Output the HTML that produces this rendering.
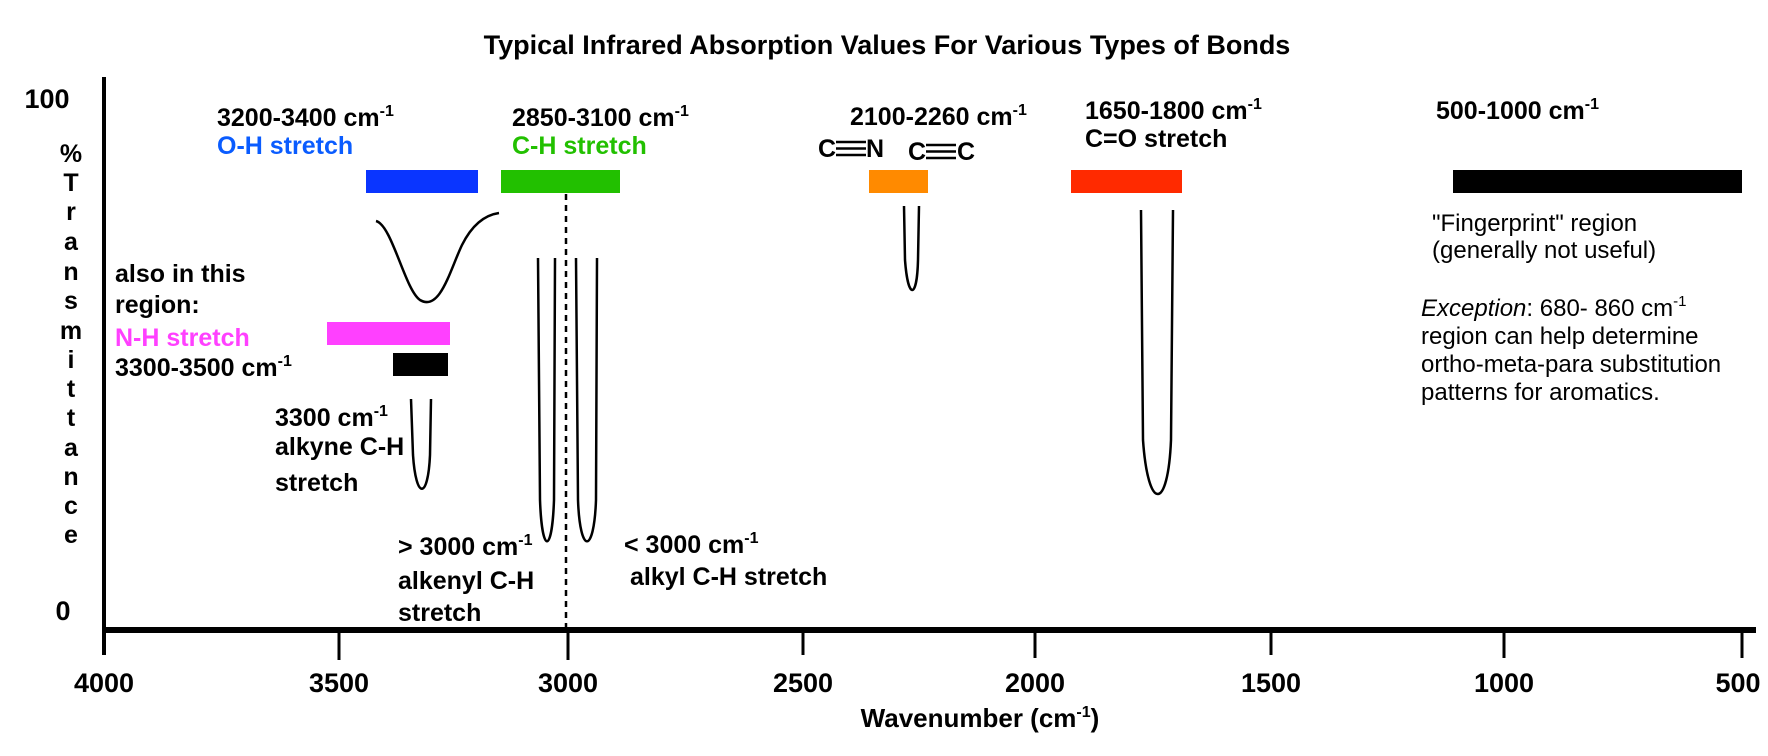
<!DOCTYPE html>
<html><head><meta charset="utf-8"><style>
html,body{margin:0;padding:0;background:#fff;}
svg{display:block;font-family:"Liberation Sans",Arial,sans-serif;}
.b{font-weight:bold;font-size:25px;fill:#000;}
.n{font-size:24px;fill:#000;}
</style></head><body>
<svg width="1768" height="756" viewBox="0 0 1768 756" xmlns="http://www.w3.org/2000/svg">
<text x="887" y="54" text-anchor="middle" class="b" style="font-size:27px">Typical Infrared Absorption Values For Various Types of Bonds</text>
<!-- axes -->
<line x1="104" y1="77" x2="104" y2="655" stroke="#000" stroke-width="4"/>
<line x1="102" y1="630" x2="1756" y2="630" stroke="#000" stroke-width="6"/>
<g stroke="#000" stroke-width="3">
<line x1="339" y1="630" x2="339" y2="660"/>
<line x1="568" y1="630" x2="568" y2="660"/>
<line x1="803" y1="630" x2="803" y2="655"/>
<line x1="1035" y1="630" x2="1035" y2="658"/>
<line x1="1271" y1="630" x2="1271" y2="655"/>
<line x1="1504" y1="630" x2="1504" y2="658"/>
<line x1="1742" y1="630" x2="1742" y2="658"/>
</g>
<g class="b" text-anchor="middle" style="font-size:27px">
<text x="104" y="692">4000</text><text x="339" y="692">3500</text><text x="568" y="692">3000</text>
<text x="803" y="692">2500</text><text x="1035" y="692">2000</text><text x="1271" y="692">1500</text>
<text x="1504" y="692">1000</text><text x="1738" y="692">500</text>
</g>
<text x="980" y="727" text-anchor="middle" class="b" style="font-size:26px">Wavenumber (cm<tspan dy="-10" style="font-size:16px">-1</tspan><tspan dy="10">)</tspan></text>
<text x="47" y="108" class="b" text-anchor="middle" style="font-size:27px">100</text>
<text x="63" y="620" class="b" text-anchor="middle" style="font-size:27px">0</text>
<g class="b" text-anchor="middle" style="font-size:25px">
<text x="71" y="162">%</text><text x="71" y="191">T</text><text x="71" y="220">r</text><text x="71" y="250">a</text>
<text x="71" y="280">n</text><text x="71" y="309">s</text><text x="71" y="339">m</text><text x="71" y="368">i</text>
<text x="71" y="397">t</text><text x="71" y="426">t</text><text x="71" y="456">a</text><text x="71" y="485">n</text>
<text x="71" y="514">c</text><text x="71" y="543">e</text>
</g>
<!-- bars -->
<rect x="366" y="170" width="112" height="23" fill="#0a35ff"/>
<rect x="501" y="170" width="119" height="23" fill="#22c000"/>
<rect x="869" y="170" width="59" height="23" fill="#ff8a00"/>
<rect x="1071" y="170" width="111" height="23" fill="#ff2a00"/>
<rect x="1453" y="170" width="289" height="23" fill="#000"/>
<rect x="327" y="322" width="123" height="23" fill="#ff40ff"/>
<rect x="393" y="353" width="55" height="23" fill="#000"/>
<!-- curves -->
<g fill="none" stroke="#000" stroke-width="2.5">
<path d="M376,221 C392,225 405,290 420,300 C440,312 450,270 462,245 C472,225 485,215 499,213"/>
<line x1="566" y1="194" x2="566" y2="630" stroke-dasharray="6,5"/>
<path d="M538,258 L540,500 C542,555 552,555 554,500 L555,258"/>
<path d="M576,258 L578,500 C580,555 594,555 596,500 L597,258"/>
<path d="M411,399 L413,455 C416,500 428,500 430,455 L431,399"/>
<path d="M904,206 L905,260 C908,300 917,300 918,260 L919,206"/>
<path d="M1141,210 L1143,440 C1148,512 1168,512 1171,440 L1173,210"/>
</g>
<!-- labels -->
<text x="217" y="126" class="b">3200-3400 cm<tspan dy="-10" style="font-size:16px">-1</tspan></text>
<text x="217" y="154" class="b" style="fill:#0a5cff">O-H stretch</text>
<text x="512" y="126" class="b">2850-3100 cm<tspan dy="-10" style="font-size:16px">-1</tspan></text>
<text x="512" y="154" class="b" style="fill:#22c000">C-H stretch</text>
<text x="850" y="125" class="b">2100-2260 cm<tspan dy="-10" style="font-size:16px">-1</tspan></text>
<text x="818" y="157" class="b">C</text>
<g stroke="#000" stroke-width="2.4"><line x1="836" y1="142" x2="866" y2="142"/><line x1="836" y1="148.5" x2="866" y2="148.5"/><line x1="836" y1="155" x2="866" y2="155"/></g>
<text x="866" y="157" class="b">N</text>
<text x="908" y="160" class="b">C</text>
<g stroke="#000" stroke-width="2.4"><line x1="926" y1="145" x2="956" y2="145"/><line x1="926" y1="151.5" x2="956" y2="151.5"/><line x1="926" y1="158" x2="956" y2="158"/></g>
<text x="957" y="160" class="b">C</text>
<text x="1085" y="119" class="b">1650-1800 cm<tspan dy="-10" style="font-size:16px">-1</tspan></text>
<text x="1085" y="147" class="b">C=O stretch</text>
<text x="1436" y="119" class="b">500-1000 cm<tspan dy="-10" style="font-size:16px">-1</tspan></text>
<text x="1432" y="231" class="n">"Fingerprint" region</text>
<text x="1432" y="258" class="n">(generally not useful)</text>
<text x="1421" y="316" class="n"><tspan font-style="italic">Exception</tspan>: 680- 860 cm<tspan dy="-10" style="font-size:15px">-1</tspan></text>
<text x="1421" y="344" class="n">region can help determine</text>
<text x="1421" y="372" class="n">ortho-meta-para substitution</text>
<text x="1421" y="400" class="n">patterns for aromatics.</text>
<text x="115" y="282" class="b">also in this</text>
<text x="115" y="313" class="b">region:</text>
<text x="115" y="346" class="b" style="fill:#ff40ff">N-H stretch</text>
<text x="115" y="376" class="b">3300-3500 cm<tspan dy="-10" style="font-size:16px">-1</tspan></text>
<text x="275" y="426" class="b">3300 cm<tspan dy="-10" style="font-size:16px">-1</tspan></text>
<text x="275" y="455" class="b">alkyne C-H</text>
<text x="275" y="491" class="b">stretch</text>
<text x="398" y="555" class="b">&gt; 3000 cm<tspan dy="-10" style="font-size:16px">-1</tspan></text>
<text x="398" y="589" class="b">alkenyl C-H</text>
<text x="398" y="621" class="b">stretch</text>
<text x="624" y="553" class="b">&lt; 3000 cm<tspan dy="-10" style="font-size:16px">-1</tspan></text>
<text x="630" y="585" class="b">alkyl C-H stretch</text>
</svg>
</body></html>
